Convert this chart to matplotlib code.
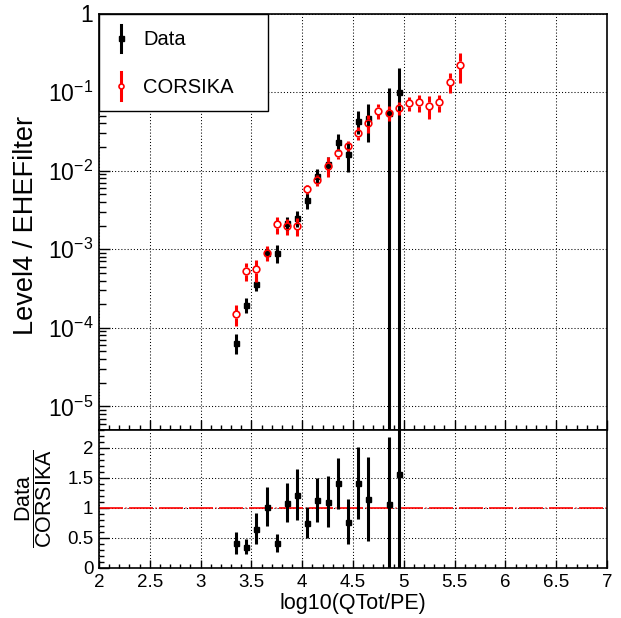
import numpy as np
import matplotlib
matplotlib.use("Agg")
import matplotlib.pyplot as plt
from matplotlib.ticker import MultipleLocator, FixedLocator, FixedFormatter, LogLocator, NullFormatter
from matplotlib.lines import Line2D
from matplotlib.legend_handler import HandlerBase

plt.rcParams['font.family'] = ['Liberation Sans', 'DejaVu Sans']
plt.rcParams['mathtext.fontset'] = 'custom'
plt.rcParams['mathtext.rm'] = 'Liberation Sans'
plt.rcParams['mathtext.it'] = 'Liberation Sans:italic'
plt.rcParams['mathtext.bf'] = 'Liberation Sans:bold'

# ---------------- data ----------------
data_x = [3.35, 3.45, 3.55, 3.65, 3.75, 3.85, 3.95, 4.05, 4.15, 4.25, 4.35, 4.45,
          4.55, 4.65, 4.85, 4.95]
data_y = [6.5e-5, 1.95e-4, 3.6e-4, 9.06e-4, 9.0e-4, 2.15e-3, 2.48e-3, 4.24e-3,
          8.6e-3, 1.22e-2, 2.34e-2, 1.63e-2, 4.29e-2, 4.73e-2, 5.47e-2, 0.100]
data_err = [1.8e-5, 4.2e-5, 6.5e-5, 1.7e-4, 2.3e-4, 4.4e-4, 5.8e-4, 1.0e-3,
            1.9e-3, 2.7e-3, 5.8e-3, 6.6e-3, 1.4e-2, 2.4e-2, 0.058, 0.102]

mc_x = [3.35, 3.45, 3.55, 3.65, 3.75, 3.85, 3.95, 4.05, 4.15, 4.25, 4.35, 4.45,
        4.55, 4.65, 4.75, 4.85, 4.95, 5.05, 5.15, 5.25, 5.35, 5.45, 5.55]
mc_y = [1.49e-4, 5.3e-4, 5.56e-4, 9.06e-4, 2.08e-3, 1.97e-3, 2.0e-3, 5.8e-3,
        7.6e-3, 1.15e-2, 1.66e-2, 2.08e-2, 2.99e-2, 4.08e-2, 5.8e-2, 5.47e-2,
        6.3e-2, 7.2e-2, 7.4e-2, 6.7e-2, 7.4e-2, 0.136, 0.223]
mc_err = [4.4e-5, 1.4e-4, 1.7e-4, 1.9e-4, 5.2e-4, 4.4e-4, 5.2e-4, 7.6e-4,
          1.3e-3, 3.3e-3, 2.5e-3, 3.0e-3, 5.6e-3, 1.1e-2, 1.3e-2, 1.2e-2,
          1.15e-2, 1.4e-2, 1.8e-2, 2.1e-2, 1.8e-2, 4.0e-2, 9.3e-2]

ratio_x = data_x
ratio_y = [0.42, 0.356, 0.656, 1.022, 0.422, 1.089, 1.222, 0.756, 1.133, 1.106,
           1.411, 0.772, 1.422, 1.156, 1.061, 1.567]
ratio_err = [0.18, 0.12, 0.26, 0.32, 0.15, 0.33, 0.42, 0.26, 0.36, 0.42,
             0.43, 0.37, 0.60, 0.70, 1.13, 2.0]

top_yticks = [1e-5, 1e-4, 1e-3, 1e-2, 1e-1, 1]
top_yticklabels = [r'$\mathregular{10^{-5}}$', r'$\mathregular{10^{-4}}$',
                   r'$\mathregular{10^{-3}}$', r'$\mathregular{10^{-2}}$',
                   r'$\mathregular{10^{-1}}$', '1']
ratio_yticks = [0, 0.5, 1, 1.5, 2]
ratio_yticklabels = ['0', '0.5', '1', '1.5', '2']
xticks = [2, 2.5, 3, 3.5, 4, 4.5, 5, 5.5, 6, 6.5, 7]
xticklabels = ['2', '2.5', '3', '3.5', '4', '4.5', '5', '5.5', '6', '6.5', '7']

# ---------------- figure ----------------
W, H = 621, 618
fig = plt.figure(figsize=(W / 100, H / 100), dpi=100)
L, R = 99 / W, 607 / W
ax = fig.add_axes([L, 1 - 430 / H, R - L, (430 - 13.5) / H])
axr = fig.add_axes([L, 1 - 568 / H, R - L, (568 - 430) / H], sharex=ax)

grid_kw = dict(color='black', linewidth=0.75, linestyle=(0, (1, 2)))
for a in (ax, axr):
    for s in a.spines.values():
        s.set_linewidth(1.2)
    a.set_axisbelow(True)

MS_DATA = 3.6

# top panel
ax.set_yscale('log')
ax.set_xlim(2, 7)
ax.set_ylim(10 ** -5.3, 1)
ax.yaxis.set_major_locator(FixedLocator(top_yticks))
ax.yaxis.set_major_formatter(FixedFormatter(top_yticklabels))
ax.yaxis.set_minor_locator(LogLocator(base=10, subs=np.arange(2, 10), numticks=20))
ax.yaxis.set_minor_formatter(NullFormatter())
ax.xaxis.set_major_locator(FixedLocator(xticks))
ax.xaxis.set_minor_locator(MultipleLocator(0.1))
ax.tick_params(axis='x', which='both', labelbottom=False)
ax.tick_params(which='both', direction='in', top=False, right=False, width=1.0)
ax.tick_params(axis='x', which='major', length=7)
ax.tick_params(axis='x', which='minor', length=3.5)
ax.tick_params(axis='y', which='major', length=8, labelsize=16.5, pad=4)
ax.tick_params(axis='y', which='minor', length=5)
ax.grid(True, which='major', **grid_kw)

# Data
ax.errorbar(data_x, data_y, yerr=data_err, fmt='s', color='black', ms=MS_DATA,
            elinewidth=2.2, capsize=0, zorder=3)

# CORSIKA: error bars with a gap around the open-circle marker
mc_x_a = np.array(mc_x)
mc_y_a = np.array(mc_y)
mc_e_a = np.array(mc_err)
trans = ax.transData
disp = trans.transform(np.column_stack([mc_x_a, mc_y_a]))
gap_px = 3.6
lo_gap = trans.inverted().transform(np.column_stack([disp[:, 0], disp[:, 1] - gap_px]))[:, 1]
hi_gap = trans.inverted().transform(np.column_stack([disp[:, 0], disp[:, 1] + gap_px]))[:, 1]
ax.vlines(mc_x_a, mc_y_a - mc_e_a, lo_gap, color='red', linewidth=2.2, zorder=4)
ax.vlines(mc_x_a, hi_gap, mc_y_a + mc_e_a, color='red', linewidth=2.2, zorder=4)
ax.plot(mc_x_a, mc_y_a, linestyle='none', marker='o', ms=4.8, mfc='none',
        mec='red', mew=1.2, zorder=5)

ax.set_ylabel('Level4 / EHEFilter', fontsize=19.5)
ax.yaxis.set_label_coords(-0.118, 0.49)


class VBarHandler(HandlerBase):
    def __init__(self, gap=0.0):
        super().__init__()
        self.gap = gap

    def create_artists(self, legend, orig_handle, xdescent, ydescent, width,
                       height, fontsize, trans):
        cx = 0.5 * width - xdescent
        cy = 0.5 * height - ydescent
        half = 0.68 * fontsize
        col = orig_handle.get_color()
        lw = orig_handle.get_linewidth()
        arts = []
        if self.gap > 0:
            arts.append(Line2D([cx, cx], [cy - half, cy - self.gap], color=col, lw=lw, transform=trans))
            arts.append(Line2D([cx, cx], [cy + self.gap, cy + half], color=col, lw=lw, transform=trans))
        else:
            arts.append(Line2D([cx, cx], [cy - half, cy + half], color=col, lw=lw, transform=trans))
        arts.append(Line2D([cx], [cy], linestyle='none', marker=orig_handle.get_marker(),
                           ms=orig_handle.get_markersize(), mfc=orig_handle.get_markerfacecolor(),
                           mec=orig_handle.get_markeredgecolor(), mew=orig_handle.get_markeredgewidth(),
                           transform=trans))
        return arts


h_data = Line2D([], [], color='black', lw=2.2, marker='s', ms=MS_DATA, mfc='black', mec='black')
h_mc = Line2D([], [], color='red', lw=2.2, marker='o', ms=3.6, mfc='none', mec='red', mew=1.2)
leg = ax.legend([h_data, h_mc], ['Data', 'CORSIKA'],
                handler_map={h_data: VBarHandler(), h_mc: VBarHandler(gap=2.6)},
                loc='upper left', bbox_to_anchor=(0, 0.5, 0.333, 0.5), mode='expand',
                borderaxespad=0,
                fontsize=14.5, frameon=True, fancybox=False, framealpha=1,
                edgecolor='black', borderpad=0.6, handlelength=1.0,
                handletextpad=0.6, labelspacing=1.12, handleheight=1.55)
leg.get_frame().set_linewidth(1.0)
leg.set_zorder(10)

# ratio panel
axr.set_ylim(0, 2.3)
axr.yaxis.set_major_locator(FixedLocator(ratio_yticks))
axr.yaxis.set_major_formatter(FixedFormatter(ratio_yticklabels))
axr.yaxis.set_minor_locator(MultipleLocator(0.1))
axr.xaxis.set_major_locator(FixedLocator(xticks))
axr.xaxis.set_major_formatter(FixedFormatter(xticklabels))
axr.xaxis.set_minor_locator(MultipleLocator(0.1))
axr.tick_params(which='both', direction='in', top=False, right=False, width=1.0)
axr.tick_params(axis='x', which='major', length=6, labelsize=13.5, pad=4)
axr.tick_params(axis='x', which='minor', length=3)
axr.tick_params(axis='y', which='major', length=7, labelsize=13.5, pad=4)
axr.tick_params(axis='y', which='minor', length=3.5)
axr.grid(True, which='major', **grid_kw)

axr.axhline(1.0, color='red', linewidth=1.2, linestyle=(0, (14.4, 1.5, 0.6, 1.5)), zorder=2)
axr.errorbar(ratio_x, ratio_y, yerr=ratio_err, fmt='s', color='black', ms=MS_DATA,
             elinewidth=2.2, capsize=0, zorder=3)

axr.set_ylabel(r'$\dfrac{\mathrm{Data}}{\mathrm{CORSIKA}}$', fontsize=15.5)
axr.yaxis.set_label_coords(-0.088, 0.5)
axr.set_xlabel('log10(QTot/PE)', fontsize=15.5, labelpad=2)

fig.savefig('out.png', dpi=100)
